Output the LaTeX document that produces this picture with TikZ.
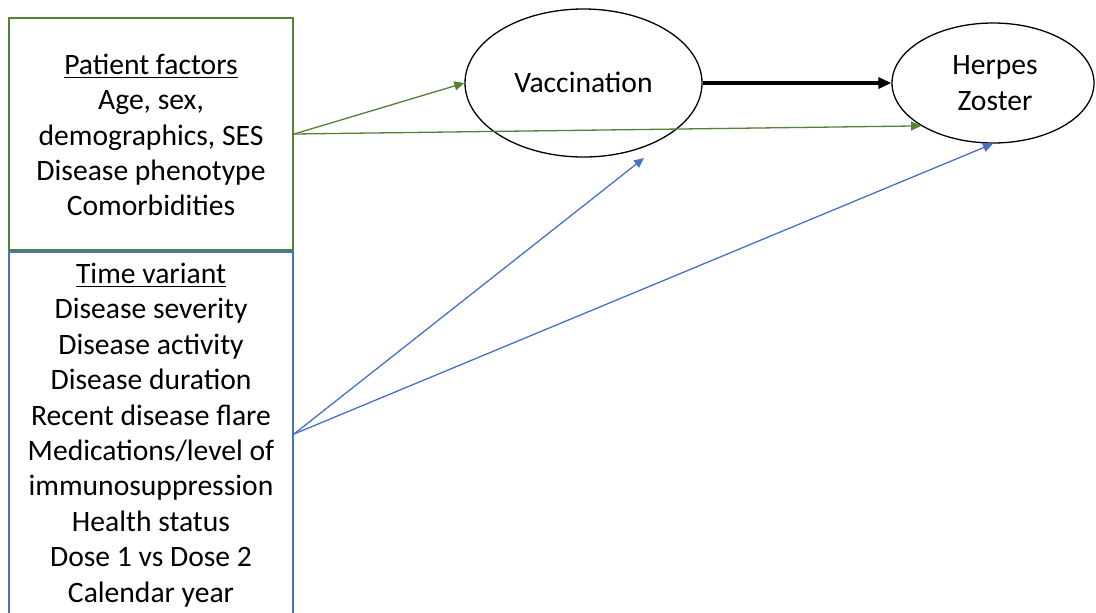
\documentclass[tikz,border=0pt]{standalone}
\usepackage{fontspec}
\setmainfont{Carlito}
\usetikzlibrary{arrows.meta,shapes.geometric}
\definecolor{pgreen}{HTML}{548235}
\definecolor{pblue}{HTML}{4472C4}
\begin{document}
\begin{tikzpicture}[x=0.5pt,y=-0.5pt,
  every node/.style={font=\fontsize{14.8}{17.7}\selectfont, text=black},
  factorbox/.style={draw, line width=1pt, minimum width=142pt, inner sep=0pt},
  txt/.style={align=center, inner sep=0pt},
  oval/.style={draw, ellipse, line width=0.65pt, inner sep=0pt},
  thinarrow/.style={line width=0.65pt, -{Triangle[length=5pt,width=4.5pt]}},
  mainarrow/.style={line width=1.7pt, -{Triangle[length=6.5pt,width=5.5pt]}}
]
\path[use as bounding box] (0,0) rectangle (1096,612);
\clip (0,0) rectangle (1096,612);
% boxes
\node[factorbox, pgreen, minimum height=116pt] (patient) at (151,134) {};
\node[factorbox, pblue, minimum height=182pt] (timevar) at (151,434) {};
\node[txt] (patienttxt) at (151,135) {\underline{Patient factors}\\Age, sex,\\demographics, SES\\Disease phenotype\\Comorbidities};
\node[txt] (timetxt) at (151,435) {\underline{Time variant}\\Disease severity\\Disease activity\\Disease duration\\Recent disease flare\\Medications/level of\\immunosuppression\\Health status\\Dose 1 vs Dose 2\\Calendar year};
% ellipses
\node[oval, minimum width=118.5pt, minimum height=74pt] (vacc) at (583.5,83) {};
\node[txt] (vacctxt) at (583.5,82) {Vaccination};
\node[oval, minimum width=101pt, minimum height=60pt] (hz) at (993,83) {};
\node[txt] (hztxt) at (995,83) {Herpes\\Zoster};
\coordinate (vaccbelow) at (644,158);
% connectors
\draw[mainarrow] (vacc.east) -- (hz.west);
\draw[thinarrow, pgreen] (patient.east) -- (vacc.west);
\draw[thinarrow, pgreen] (patient.east) -- (hz.south west);
\draw[thinarrow, pblue] (timevar.east) -- (vaccbelow);
\draw[thinarrow, pblue] (timevar.east) -- (hz.south);
\end{tikzpicture}
\end{document}
